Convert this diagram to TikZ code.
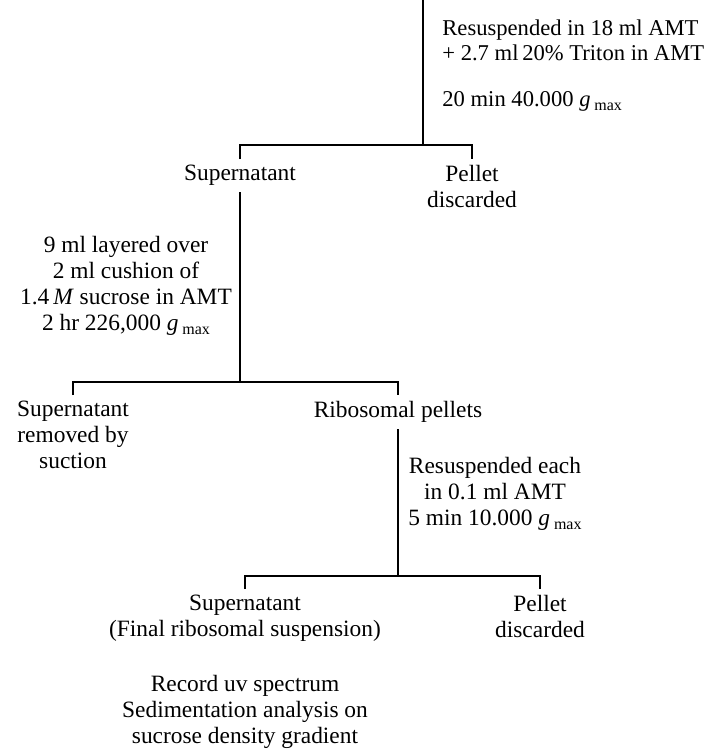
\documentclass[tikz,border=0pt]{standalone}
\usepackage{fontspec}
\setmainfont{Liberation Serif}
\usepackage{tikz}
\usetikzlibrary{positioning}

\newcommand{\gmaxlbl}{\textit{g}\,\raisebox{-0.4ex}{\fontsize{8}{8}\selectfont max}}

\begin{document}
\begin{tikzpicture}[
        x=0.5pt, y=-0.5pt,
        every node/.style={font=\fontsize{11.7}{13}\selectfont, inner sep=3pt},
        item/.style={align=center, anchor=north},
        note/.style={align=center},
        line/.style={line width=1pt}
    ]
        \useasboundingbox (0,0) rectangle (706,750);

        % Nodes
        \coordinate (top) at (423,0);
        \coordinate (j1) at (423,145);
        \node[item] (sup1) at (240,159) {Supernatant};
        \node[item] (pel1) at (472,159) {Pellet\\discarded};

        \coordinate (j2) at (240,382);
        \node[item] (sup2) at (73,395) {Supernatant\\removed by\\suction};
        \node[item] (ribo) at (398,395) {Ribosomal pellets};

        \coordinate (j3) at (398,576);
        \node[item] (sup3) at (245,589) {Supernatant\\(Final ribosomal suspension)};
        \node[item] (pel3) at (540,589) {Pellet\\discarded};
        \node[note] (rec) at (245,712) {Record uv spectrum\\Sedimentation analysis on\\sucrose density gradient};

        % Labels
        \node[anchor=north west, align=left, font=\fontsize{11.3}{12.6}\selectfont] (spin1) at (436,13) {Resuspended in 18 ml AMT\\+ 2.7 ml\,20\% Triton in AMT\\[10.5pt]20 min 40.000 \gmaxlbl};
        \node[note] (spin2) at (126,286) {9 ml layered over\\2 ml cushion of\\1.4\,\textit{M} sucrose in AMT\\2 hr 226,000 \gmaxlbl};
        \node[note] (spin3) at (495,494) {Resuspended each\\in 0.1 ml AMT\\5 min 10.000 \gmaxlbl};

        % Paths
        \draw[line] (top) -- (j1);
        \draw[line] (sup1.north) |- (j1) -| (pel1.north);
        \draw[line] (sup1.south) -- (j2);
        \draw[line] (sup2.north) |- (j2) -| (ribo.north);
        \draw[line] (ribo.south) -- (j3);
        \draw[line] (sup3.north) |- (j3) -| (pel3.north);

    \end{tikzpicture}
\end{document}
